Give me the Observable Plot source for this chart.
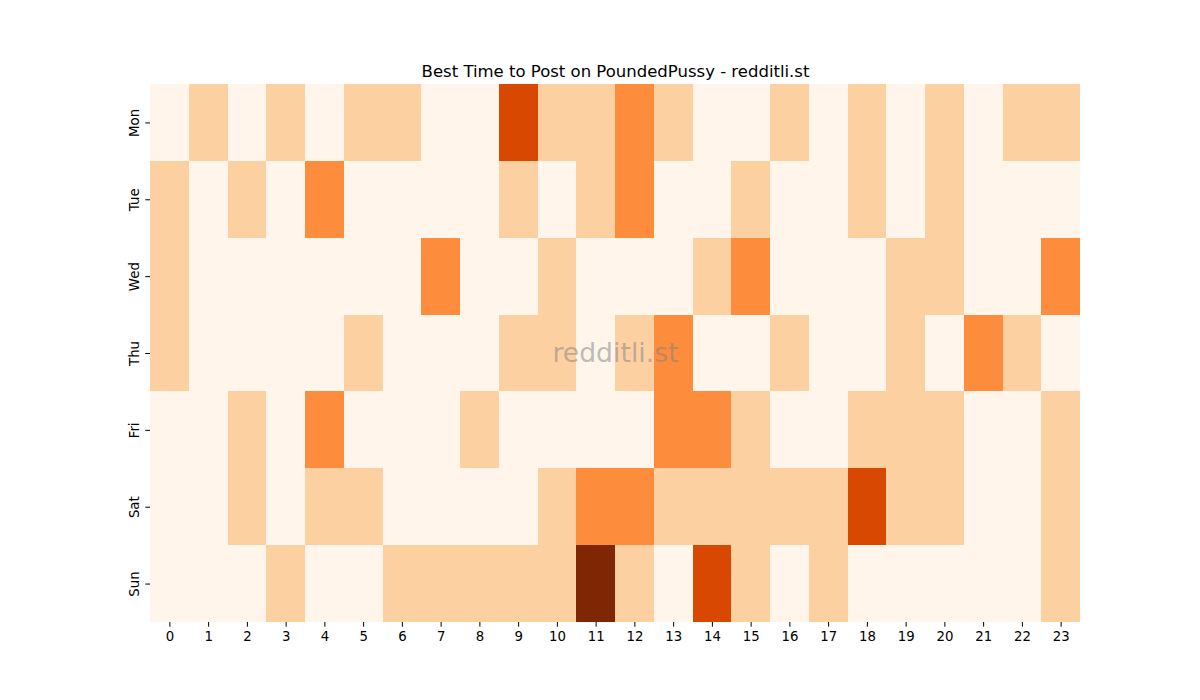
<!DOCTYPE html>
<html>
<head>
<meta charset="utf-8">
<script src="https://cdn.jsdelivr.net/npm/d3@7"></script>
<script src="https://cdn.jsdelivr.net/npm/@observablehq/plot@0.6"></script>
<style>
  html, body { margin: 0; padding: 0; background: #fff; }
  #chart svg { display: block; }
</style>
</head>
<body>
<div id="chart"></div>
<script>
const titleText = "Best Time to Post on PoundedPussy - redditli.st";
const watermark = "redditli.st";
const days = ["Mon", "Tue", "Wed", "Thu", "Fri", "Sat", "Sun"];
const hours = d3.range(24);
const levelColors = ["#fff5eb", "#fdd0a2", "#fd8d3c", "#d94801", "#7f2704"];

const mon = [0,1,0,1,0,1,1,0,0,3,1,1,2,1,0,0,1,0,1,0,1,0,1,1];
const tue = [1,0,1,0,2,0,0,0,0,1,0,1,2,0,0,1,0,0,1,0,1,0,0,0];
const wed = [1,0,0,0,0,0,0,2,0,0,1,0,0,0,1,2,0,0,0,1,1,0,0,2];
const thu = [1,0,0,0,0,1,0,0,0,1,1,0,1,2,0,0,1,0,0,1,0,2,1,0];
const fri = [0,0,1,0,2,0,0,0,1,0,0,0,0,2,2,1,0,0,1,1,1,0,0,1];
const sat = [0,0,1,0,1,1,0,0,0,0,1,2,2,1,1,1,1,1,3,1,1,0,0,1];
const sun = [0,0,0,1,0,0,1,1,1,1,1,4,1,0,3,1,0,1,0,0,0,0,0,1];
const rows = [mon, tue, wed, thu, fri, sat, sun];

const cells = [];
rows.forEach((r, i) => r.forEach((v, h) => cells.push({day: days[i], hour: h, v})));

const chart = Plot.plot({
  width: 1200,
  height: 700,
  marginLeft: 150,
  marginRight: 120,
  marginTop: 84,
  marginBottom: 78,
  style: {fontFamily: "DejaVu Sans", fontSize: "13.3px", color: "#000", background: "#fff"},
  x: {type: "band", domain: hours, padding: 0, round: false, label: null},
  y: {type: "band", domain: days, padding: 0, round: false, label: null},
  color: {type: "ordinal", domain: [0,1,2,3,4], range: levelColors},
  marks: [
    Plot.cell(cells, {x: "hour", y: "day", fill: "v", inset: 0, shapeRendering: "crispEdges"}),
    Plot.text([watermark], {frameAnchor: "middle", text: d => d, fontSize: 26.7, fill: "#808080", fillOpacity: 0.5}),
    Plot.text([titleText], {frameAnchor: "top", text: d => d, dy: -8, fontSize: 16.5, fill: "#000", lineAnchor: "bottom"}),
    Plot.axisX({tickSize: 4.7, tickPadding: 4, fontSize: 13.3}),
    Plot.axisY({tickSize: 4.7, tickPadding: 7, tickRotate: -90, fontSize: 13.3})
  ]
});
document.getElementById("chart").appendChild(chart);
</script>
</body>
</html>
